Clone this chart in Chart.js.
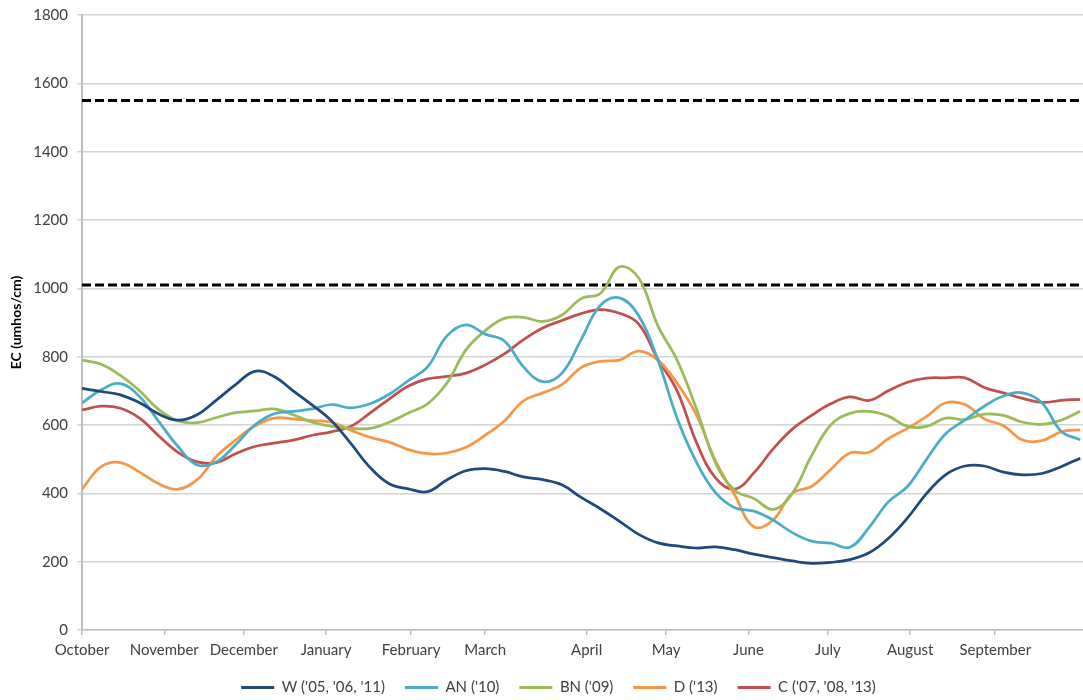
<!DOCTYPE html>
<html>
<head>
<meta charset="utf-8">
<script src="https://cdn.jsdelivr.net/npm/chart.js@4/dist/chart.umd.min.js"></script>
<style>
  html, body { margin: 0; padding: 0; background: #ffffff; }
  #wrap { width: 1083px; height: 700px; }
</style>
</head>
<body>
<div id="wrap"><canvas id="c" width="1083" height="700"></canvas></div>
<script>
// ---- Data (days from Oct 1) ----
const sampleDays = [0,7,14,21,28,35,42,49,56,63,70,77,84,91,98,105,112,119,126,133,140,147,154,161,168,175,182,189,196,203,210,217,224,231,238,245,252,259,266,273,280,287,294,301,308,315,322,329,336,343,350,357,364];

const wValues  = [707,698,688,665,632,614,630,673,718,757,742,700,658,612,546,476,428,413,405,439,466,472,464,448,440,425,388,355,318,280,255,246,240,243,235,222,212,202,195,198,206,226,268,328,400,455,480,480,462,454,458,478,503];
const anValues = [664,703,721,683,610,537,483,492,542,600,633,640,647,660,650,662,690,730,770,860,893,866,846,770,727,752,850,950,972,920,790,620,492,402,358,348,322,285,260,254,242,300,375,420,500,575,615,655,685,694,665,582,557];
const bnValues = [790,778,745,700,645,612,607,622,636,641,647,630,608,596,590,590,608,635,662,722,820,876,912,915,903,922,970,985,1063,1030,890,790,648,490,408,385,353,400,510,600,634,640,626,596,596,620,616,632,628,608,602,614,640];
const dValues  = [412,478,490,462,428,412,440,508,556,597,620,618,613,608,585,564,550,528,516,518,535,570,612,671,694,718,768,786,790,816,790,722,630,495,395,302,322,400,420,470,518,520,560,590,625,665,660,618,598,556,554,580,586];
const cValues  = [644,655,649,620,568,520,492,490,516,537,547,556,570,580,596,635,676,714,735,742,752,776,808,850,884,906,926,938,927,895,792,700,550,445,412,460,530,588,628,662,682,672,700,725,737,738,738,710,694,678,666,672,675];

const seriesNames  = ["W ('05, '06, '11)", "AN ('10)", "BN ('09)", "D ('13)", "C ('07, '08, '13)"];
const seriesColors = ["#1f497d", "#4bacc6", "#9bbb59", "#f79646", "#c0504d"];

const thresholdValues = [1550, 1010];

const monthNames    = ["October","November","December","January","February","March","April","May","June","July","August","September"];
const monthTickDays = [0,30,59,89,120,147,184,213,243,272,302,333];
const yTicks        = [0,200,400,600,800,1000,1200,1400,1600,1800];

// ---- Build datasets ----
const seriesValues = [wValues, anValues, bnValues, dValues, cValues];
const datasets = seriesValues.map((vals, i) => ({
  label: seriesNames[i],
  data: vals.map((v, k) => ({ x: sampleDays[k], y: v })),
  borderColor: seriesColors[i],
  backgroundColor: seriesColors[i],
  borderWidth: 2.75,
  pointRadius: 0,
  tension: 0.4,
  fill: false
}));
thresholdValues.forEach(t => {
  datasets.push({
    label: '',
    data: [{ x: 0, y: t }, { x: 365, y: t }],
    borderColor: '#000000',
    borderWidth: 3,
    borderDash: [9, 4],
    pointRadius: 0,
    fill: false
  });
});

const gridColor = '#d4d4d4';
const fontFamily = "Lato, 'Open Sans', 'Liberation Sans', sans-serif";

const legendLayout = {
  id: 'legendLayout',
  beforeLayout(chart) {
    const lg = chart.legend;
    if (lg && !lg._patched) {
      const origFit = lg.fit.bind(lg);
      lg.fit = function () { origFit(); this.height = 40; };
      lg._patched = true;
    }
  },
  afterLayout(chart) {
    const lg = chart.legend;
    if (lg) { lg.left += 17; lg.right += 17; }
  }
};

new Chart(document.getElementById('c'), {
  type: 'line',
  data: { datasets },
  plugins: [legendLayout],
  options: {
    responsive: false,
    animation: false,
    layout: { padding: { top: 15, right: 0, bottom: 0, left: 0 } },
    plugins: {
      tooltip: { enabled: false },
      legend: {
        position: 'bottom',
        labels: {
          color: '#404040',
          font: { family: fontFamily, size: 15 },
          boxWidth: 33,
          boxHeight: 3,
          padding: 20,
          generateLabels(chart) {
            const items = Chart.defaults.plugins.legend.labels.generateLabels(chart);
            return items.filter(it => it.text).map(it => Object.assign(it, { lineWidth: 0, fillStyle: it.strokeStyle }));
          }
        }
      }
    },
    scales: {
      x: {
        type: 'linear',
        min: 0,
        max: 365,
        afterBuildTicks(scale) { scale.ticks = monthTickDays.map(v => ({ value: v })); },
        afterFit(scale) { scale.height = 30; },
        ticks: {
          autoSkip: false,
          maxRotation: 0,
          padding: 6,
          color: '#404040',
          font: { family: fontFamily, size: 15 },
          callback: (v, i) => monthNames[i]
        },
        grid: { drawOnChartArea: false, drawTicks: true, tickLength: 5, color: '#bfbfbf', lineWidth: 1.5 },
        border: { display: true, color: '#bfbfbf', width: 1.5 }
      },
      y: {
        min: 0,
        max: 1800,
        afterBuildTicks(scale) { scale.ticks = yTicks.map(v => ({ value: v })); },
        afterFit(scale) { scale.width = 82; scale.paddingTop = 6; },
        ticks: {
          padding: 9,
          color: '#404040',
          font: { family: fontFamily, size: 15 },
          callback: v => String(v)
        },
        title: {
          display: true,
          text: 'EC (umhos/cm)',
          color: '#000000',
          font: { family: fontFamily, size: 14, weight: 'bold' },
          padding: { top: 8, bottom: 0 }
        },
        grid: { color: gridColor, lineWidth: 1.5, tickLength: 5, drawTicks: true },
        border: { display: true, color: '#bfbfbf', width: 2 }
      }
    }
  }
});
</script>
</body>
</html>
